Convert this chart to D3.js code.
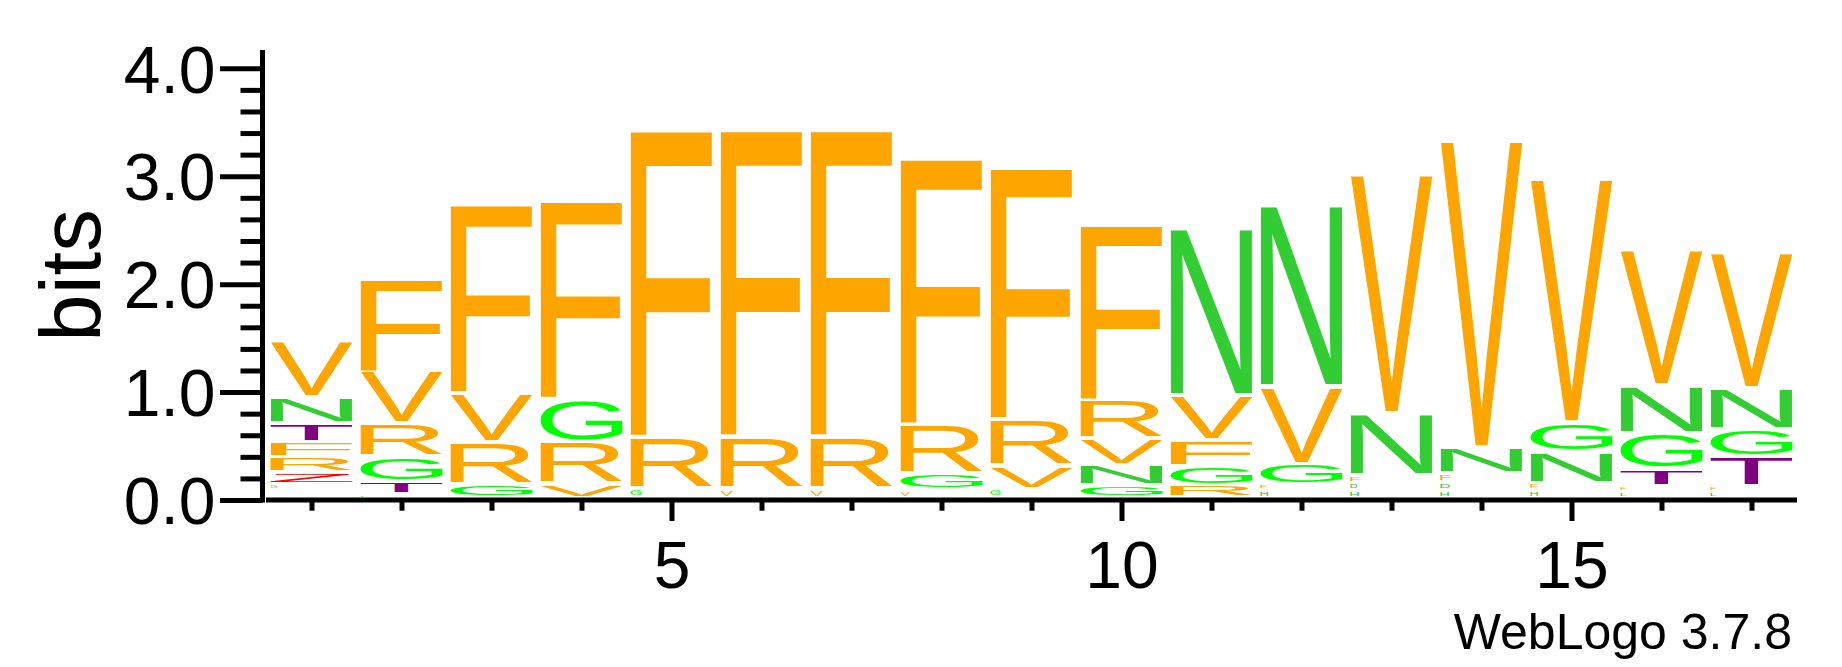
<!DOCTYPE html>
<html><head><meta charset="utf-8">
<script src="https://cdn.jsdelivr.net/npm/d3@7"></script>
<style>html,body{margin:0;padding:0;background:#fff;} svg{display:block;}</style>
</head><body><svg id="chart" width="1842" height="667"></svg>
<script>
// ---- data ----
const positions = d3.range(1, 18);
// letters of each stack, bottom to top
const stackLetters = ["KLSGZRFTNV","GTGRVF","GRVF","VRGF","GRF","VRF","VRF","VGRF","GVRF",
                      "GNVRF","RGFVN","HFGVN","HDFNV","HDFNV","HFNGV","LFTGNV","LFTGNV"];
// heights in bits, same order
const stackBits = [
  [0.023,0.023,0.023,0.06,0.106,0.139,0.139,0.176,0.241,0.517],
  [0.03,0.119,0.231,0.306,0.481,0.863],
  [0.123,0.391,0.455,1.752],
  [0.131,0.389,0.394,1.839],
  [0.083,0.48,2.846],
  [0.089,0.478,2.843],
  [0.089,0.478,2.843],
  [0.076,0.144,0.457,2.468],
  [0.079,0.217,0.432,2.332],
  [0.114,0.191,0.247,0.354,1.631],
  [0.116,0.177,0.239,0.421,1.549],
  [0.068,0.058,0.189,0.715,1.671],
  [0.072,0.063,0.076,0.573,2.216],
  [0.072,0.076,0.08,0.238,2.845],
  [0.068,0.067,0.29,0.272,2.261],
  [0.058,0.049,0.159,0.331,0.443,1.259],
  [0.058,0.049,0.272,0.259,0.38,1.255]
];
const yMajorTicks = [0,1,2,3,4];
const yMinorTicks = d3.range(0, 4.01, 0.2).filter(v => Math.abs(v - Math.round(v)) > 1e-6);
const xLabelTicks = [5,10,15];
const letterColors = {F:"#FFA500",V:"#FFA500",R:"#FFA500",N:"#32CD32",G:"#00FF00",T:"#800080",
                      Z:"#FF0000",H:"#32CD32",D:"#32CD32",L:"#32CD32",K:"#32CD32",S:"#32CD32"};
const yLabel = "bits";
const footer = "WebLogo 3.7.8";

// ---- layout ----
const FONT = "'Liberation Sans', Arial, Helvetica, sans-serif";
const svg = d3.select("#chart");
const x = d3.scaleLinear().domain([0.5, 17.5]).range([266.5, 1796.5]);
const y = d3.scaleLinear().domain([0, 4]).range([500, 68.3]);
const baseY = y(0) - 2.5;
const pxPerBit = y(0) - y(1);
const colW = 82;

// glyph ink metrics
const ctx = document.createElement("canvas").getContext("2d");
ctx.font = "200px 'Liberation Sans'";
const inkCache = {};
function ink(ch){
  if(!inkCache[ch]){
    const m = ctx.measureText(ch);
    inkCache[ch] = {l:m.actualBoundingBoxLeft, r:m.actualBoundingBoxRight, a:m.actualBoundingBoxAscent, d:m.actualBoundingBoxDescent};
  }
  return inkCache[ch];
}

const gLetters = svg.append("g");
positions.forEach((p, i) => {
  const letters = stackLetters[i].split("");
  const bits = stackBits[i];
  const cx = x(p);
  let cum = 0;
  letters.forEach((ch, j) => {
    const yB = baseY - cum * pxPerBit;
    cum += bits[j];
    const yT = baseY - cum * pxPerBit;
    const h = yB - yT;
    if (h < 3) return;
    const inkH = Math.max(0.45 * h, h - 4);
    const top = yT + (h - inkH) / 2;
    let W = colW;
    if (inkH < 6) W = Math.min(colW, inkH * 2.2);
    const left = cx - colW / 2;
    const b = ink(ch);
    gLetters.append("text")
      .text(ch)
      .attr("font-family", FONT)
      .attr("font-size", 200)
      .attr("fill", letterColors[ch])
      .attr("transform", `translate(${left},${top}) scale(${W/(b.l+b.r)},${inkH/(b.a+b.d)}) translate(${b.l},${b.a})`);
  });
});

// ---- y axis ----
const yAxisX = 262.5;
const yMajor = d3.axisLeft(y).tickValues(yMajorTicks).tickSize(42.5).tickPadding(4.5).tickFormat(d3.format(".1f"));
const yMinor = d3.axisLeft(y).tickValues(yMinorTicks).tickSize(22).tickFormat("");
const gyMinor = svg.append("g").attr("transform", `translate(${yAxisX},0)`).call(yMinor);
const gyMajor = svg.append("g").attr("transform", `translate(${yAxisX},0)`).call(yMajor);
[gyMinor, gyMajor].forEach(g => {
  g.select(".domain").remove();
  g.selectAll(".tick line").attr("stroke", "#000").attr("stroke-width", 5);
});
gyMajor.selectAll(".tick text").attr("font-family", FONT).attr("font-size", 66).attr("fill", "#000").attr("dy", "0.36em");
svg.append("line").attr("x1", yAxisX).attr("x2", yAxisX).attr("y1", 50).attr("y2", 502.5)
  .attr("stroke", "#000").attr("stroke-width", 5);

// ---- x axis ----
const xMinor = d3.axisBottom(x).tickValues(positions.filter(p => !xLabelTicks.includes(p))).tickSize(10.7).tickFormat("");
const xMajor = d3.axisBottom(x).tickValues(xLabelTicks).tickSize(21).tickPadding(20).tickFormat(d3.format("d"));
const gxMinor = svg.append("g").attr("transform", `translate(0,${y(0)})`).call(xMinor);
const gxMajor = svg.append("g").attr("transform", `translate(0,${y(0)})`).call(xMajor);
[gxMinor, gxMajor].forEach(g => {
  g.select(".domain").remove();
  g.selectAll(".tick line").attr("stroke", "#000").attr("stroke-width", 5);
});
gxMajor.selectAll(".tick text").attr("font-family", FONT).attr("font-size", 66).attr("fill", "#000");
svg.append("line").attr("x1", 266).attr("x2", 1797).attr("y1", y(0)).attr("y2", y(0))
  .attr("stroke", "#000").attr("stroke-width", 5);

// ---- labels ----
svg.append("text").text(yLabel)
  .attr("transform", "translate(100,275.5) rotate(-90)")
  .attr("text-anchor", "middle").attr("font-family", FONT).attr("font-size", 85).attr("fill", "#000");
svg.append("text").text(footer)
  .attr("x", 1792).attr("y", 648.5).attr("text-anchor", "end")
  .attr("font-family", FONT).attr("font-size", 50).attr("fill", "#000");
</script>
</body></html>
